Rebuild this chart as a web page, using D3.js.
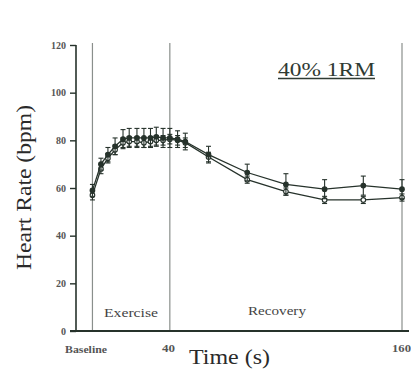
<!DOCTYPE html>
<html>
<head>
<meta charset="utf-8">
<script src="https://cdnjs.cloudflare.com/ajax/libs/d3/7.8.5/d3.min.js"></script>
<style>
  html, body { margin: 0; padding: 0; background: #fff; }
  svg { display: block; }
</style>
</head>
<body>
<div id="chart"></div>
<script>
// Heart rate during 40% 1RM exercise and recovery — two series with error bars
const W = 411, H = 375;

const times   = [0, 4.4, 8, 11.7, 15.8, 19, 23, 26.6, 30, 33, 36.5, 40, 44, 48, 60, 80, 100, 120, 140, 160];
const upperHR = [59, 70, 74, 77.5, 80.5, 81, 81, 81, 81, 81.5, 81, 81, 80.5, 79.5, 74, 66.5, 61.5, 59.5, 61, 59.5];
const upperSE = [2.5, 2.5, 3, 3.5, 4, 4, 4, 4, 4, 4, 4, 4, 3.5, 3.5, 3.5, 3.5, 4.5, 4, 4, 4];
const lowerHR = [57, 68, 72.5, 76, 79, 79.5, 79.5, 79, 79.5, 80, 80, 80.5, 80, 79, 73, 63.5, 58.5, 55, 55, 56];
const lowerSE = [2, 2, 2, 2, 2, 2, 2, 2, 2, 2, 2, 2, 2, 2, 2, 1.5, 1.5, 1.5, 1.5, 1.5];
const yTicks  = [0, 20, 40, 60, 80, 100, 120];
const phaseLines = [0, 40, 160];

const INK = '#26322b';
const SERIF = '"Liberation Serif", "DejaVu Serif", serif';

const x = d3.scaleLinear().domain([-8.5, 160]).range([76, 402]);
const y = d3.scaleLinear().domain([0, 120]).range([331, 45]);

const svg = d3.select('#chart').append('svg')
  .attr('width', W)
  .attr('height', H);

// phase separators
svg.append('g').selectAll('line')
  .data(phaseLines)
  .join('line')
  .attr('x1', d => x(d)).attr('x2', d => x(d))
  .attr('y1', 43).attr('y2', 331)
  .attr('stroke', '#8a8f8c')
  .attr('stroke-width', 1.2);

// y axis
const yAxis = svg.append('g')
  .attr('transform', 'translate(76,0)')
  .call(d3.axisLeft(y).tickValues(yTicks).tickSize(6).tickPadding(4));
yAxis.select('.domain').attr('stroke', INK).attr('stroke-width', 1.6)
  .attr('d', 'M0,' + y(120) + 'V' + y(0));
yAxis.selectAll('.tick line').attr('stroke', INK).attr('stroke-width', 1.4);
yAxis.selectAll('.tick text')
  .attr('fill', '#555')
  .attr('font-family', SERIF)
  .attr('font-weight', 'bold')
  .attr('font-size', 10);

// x axis baseline
svg.append('line')
  .attr('x1', 70).attr('x2', 409)
  .attr('y1', y(0)).attr('y2', y(0))
  .attr('stroke', INK)
  .attr('stroke-width', 1.8);

// series
function drawSeries(vals, errs, filled) {
  const g = svg.append('g');
  const pts = times.map((t, i) => ({ t: t, v: vals[i], e: errs[i] }));

  g.append('path')
    .datum(pts)
    .attr('d', d3.line().x(d => x(d.t)).y(d => y(d.v)))
    .attr('fill', 'none')
    .attr('stroke', INK)
    .attr('stroke-width', 1.3);

  const eb = g.selectAll('.eb').data(pts).join('g').attr('class', 'eb');
  eb.append('line')
    .attr('x1', d => x(d.t)).attr('x2', d => x(d.t))
    .attr('y1', d => y(d.v + d.e)).attr('y2', d => y(d.v - d.e))
    .attr('stroke', INK).attr('stroke-width', 1.1);
  eb.append('line')
    .attr('x1', d => x(d.t) - 2.5).attr('x2', d => x(d.t) + 2.5)
    .attr('y1', d => y(d.v + d.e)).attr('y2', d => y(d.v + d.e))
    .attr('stroke', INK).attr('stroke-width', 1.1);
  eb.append('line')
    .attr('x1', d => x(d.t) - 2.5).attr('x2', d => x(d.t) + 2.5)
    .attr('y1', d => y(d.v - d.e)).attr('y2', d => y(d.v - d.e))
    .attr('stroke', INK).attr('stroke-width', 1.1);

  g.selectAll('.pt').data(pts).join('circle')
    .attr('class', 'pt')
    .attr('cx', d => x(d.t))
    .attr('cy', d => y(d.v))
    .attr('r', 2.3)
    .attr('fill', filled ? INK : '#fff')
    .attr('stroke', INK)
    .attr('stroke-width', 1.1);
}
drawSeries(lowerHR, lowerSE, false);
drawSeries(upperHR, upperSE, true);

// labels (the scanned type is wider than Liberation Serif, so stretch to measured widths)
function label(txt, lx, ly, size, len, opts) {
  opts = opts || {};
  const t = svg.append('text')
    .attr('x', lx).attr('y', ly)
    .attr('font-family', SERIF)
    .attr('font-size', size)
    .attr('font-weight', opts.bold ? 'bold' : 'normal')
    .attr('fill', opts.fill || '#333')
    .text(txt);
  if (len) t.attr('textLength', len).attr('lengthAdjust', 'spacingAndGlyphs');
  return t;
}

label('Exercise', 104, 317, 11.5, 54, { fill: '#444' });
label('Recovery', 248, 315, 11.5, 58, { fill: '#444' });
label('Baseline', 65, 353, 11, 42, { bold: true, fill: '#555' });
label('40', 162, 352, 11, 13, { bold: true, fill: '#555' });
label('160', 392, 352, 11, 19, { bold: true, fill: '#555' });
label('Time (s)', 189, 364, 22, 81, { fill: '#2a2a2a' });

label('40% 1RM', 278, 76, 19, 97, { fill: '#2f3a33' });
svg.append('line')
  .attr('x1', 278).attr('x2', 375)
  .attr('y1', 78.5).attr('y2', 78.5)
  .attr('stroke', '#2f3a33').attr('stroke-width', 1.4);

svg.append('text')
  .attr('transform', 'translate(31,270) rotate(-90)')
  .attr('font-family', SERIF)
  .attr('font-size', 22)
  .attr('fill', '#2a2a2a')
  .attr('textLength', 165)
  .attr('lengthAdjust', 'spacingAndGlyphs')
  .text('Heart Rate (bpm)');
</script>
</body>
</html>
